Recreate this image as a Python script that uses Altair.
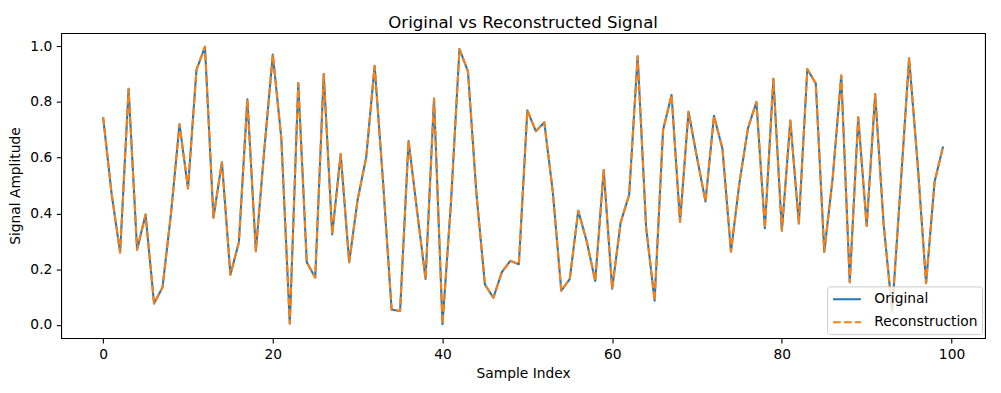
import altair as alt
import pandas as pd

sample_index = list(range(100))

original = [
    0.745, 0.47, 0.26, 0.847, 0.27, 0.396, 0.077, 0.135, 0.40, 0.72,
    0.49, 0.915, 0.998, 0.385, 0.584, 0.18, 0.297, 0.81, 0.265, 0.63,
    0.97, 0.67, 0.005, 0.868, 0.225, 0.17, 0.90, 0.325, 0.613, 0.225,
    0.45, 0.60, 0.93, 0.51, 0.055, 0.05, 0.66, 0.41, 0.165, 0.812,
    0.003, 0.44, 0.99, 0.91, 0.47, 0.145, 0.098, 0.19, 0.23, 0.218,
    0.77, 0.695, 0.727, 0.478, 0.123, 0.165, 0.41, 0.30, 0.158, 0.556,
    0.13, 0.368, 0.467, 0.964, 0.35, 0.087, 0.70, 0.825, 0.37, 0.765,
    0.60, 0.443, 0.75, 0.632, 0.263, 0.51, 0.705, 0.80, 0.347, 0.883,
    0.338, 0.733, 0.364, 0.918, 0.866, 0.262, 0.53, 0.895, 0.153, 0.745,
    0.355, 0.828, 0.36, 0.05, 0.50, 0.957, 0.58, 0.15, 0.513, 0.64,
]

reconstruction = [
    0.745, 0.47, 0.26, 0.847, 0.27, 0.396, 0.077, 0.135, 0.40, 0.72,
    0.49, 0.915, 0.998, 0.385, 0.584, 0.18, 0.297, 0.81, 0.265, 0.63,
    0.97, 0.67, 0.005, 0.868, 0.225, 0.17, 0.90, 0.325, 0.613, 0.225,
    0.45, 0.60, 0.93, 0.51, 0.055, 0.05, 0.66, 0.41, 0.165, 0.812,
    0.003, 0.44, 0.99, 0.91, 0.47, 0.145, 0.098, 0.19, 0.23, 0.218,
    0.77, 0.695, 0.727, 0.478, 0.123, 0.165, 0.41, 0.30, 0.158, 0.556,
    0.13, 0.368, 0.467, 0.964, 0.35, 0.087, 0.70, 0.825, 0.37, 0.765,
    0.60, 0.443, 0.75, 0.632, 0.263, 0.51, 0.705, 0.80, 0.347, 0.883,
    0.338, 0.733, 0.364, 0.918, 0.866, 0.262, 0.53, 0.895, 0.153, 0.745,
    0.355, 0.828, 0.36, 0.05, 0.50, 0.957, 0.58, 0.15, 0.513, 0.64,
]

series_names = ["Original", "Reconstruction"]
series_colors = ["#1f77b4", "#ff7f0e"]
series_dashes = [[1, 0], [7.7, 3.3]]
x_ticks = [0, 20, 40, 60, 80, 100]
y_ticks = [0.0, 0.2, 0.4, 0.6, 0.8, 1.0]

df = pd.DataFrame({
    "index": sample_index + sample_index,
    "value": original + reconstruction,
    "series": [series_names[0]] * len(original) + [series_names[1]] * len(reconstruction),
})

FONT = "DejaVu Sans"


def make_legend():
    return alt.Legend(
        title=None,
        orient="none",
        legendX=771,
        legendY=255,
        symbolType="M-1,0H3",
        symbolSize=196,
        symbolStrokeWidth=2.08,
        labelFont=FONT,
        labelFontSize=13.9,
        labelColor="black",
        labelOffset=26,
        rowPadding=7,
        padding=4.5,
        fillColor="rgba(255,255,255,0.8)",
        strokeColor="#cccccc",
        cornerRadius=3,
    )


x_enc = alt.X(
    "index:Q",
    scale=alt.Scale(domain=[-4.95, 103.95], nice=False, zero=False),
    axis=alt.Axis(values=x_ticks, format="d", title="Sample Index"),
)
y_enc = alt.Y(
    "value:Q",
    scale=alt.Scale(domain=[-0.047, 1.047], nice=False, zero=False),
    axis=alt.Axis(values=y_ticks, format=".1f", title="Signal Amplitude"),
)
color_enc = alt.Color(
    "series:N",
    scale=alt.Scale(domain=series_names, range=series_colors),
    legend=make_legend(),
)
dash_enc = alt.StrokeDash(
    "series:N",
    scale=alt.Scale(domain=series_names, range=series_dashes),
    legend=make_legend(),
)

base = alt.Chart(df).mark_line(strokeWidth=2.08, strokeJoin="round", strokeCap="butt").encode(
    x=x_enc, y=y_enc, color=color_enc, strokeDash=dash_enc
)

layer_orig = base.transform_filter(alt.datum.series == series_names[0])
layer_rec = base.transform_filter(alt.datum.series == series_names[1])

chart = alt.layer(layer_orig, layer_rec).properties(
    width=930,
    height=307,
    autosize=alt.AutoSizeParams(type="none"),
    padding={"left": 53.5, "top": 24, "right": 8, "bottom": 50},
    title=alt.TitleParams(
        "Original vs Reconstructed Signal",
        font=FONT,
        fontSize=16.7,
        fontWeight="normal",
        color="black",
        anchor="middle",
        baseline="alphabetic",
        offset=8.3,
        dy=20,
    ),
).configure_view(
    stroke="black", strokeWidth=1.1
).configure_axis(
    grid=False,
    domain=False,
    ticks=True,
    tickSize=4.9,
    tickWidth=1.1,
    tickColor="black",
    labelFont=FONT,
    labelFontSize=13.9,
    labelColor="black",
    labelPadding=4.5,
    titleFont=FONT,
    titleFontSize=13.9,
    titleFontWeight="normal",
    titleColor="black",
).configure_axisX(
    titlePadding=5,
).configure_axisY(
    titlePadding=7,
)

chart.save("out.html", embed_options={"renderer": "svg", "actions": False})
